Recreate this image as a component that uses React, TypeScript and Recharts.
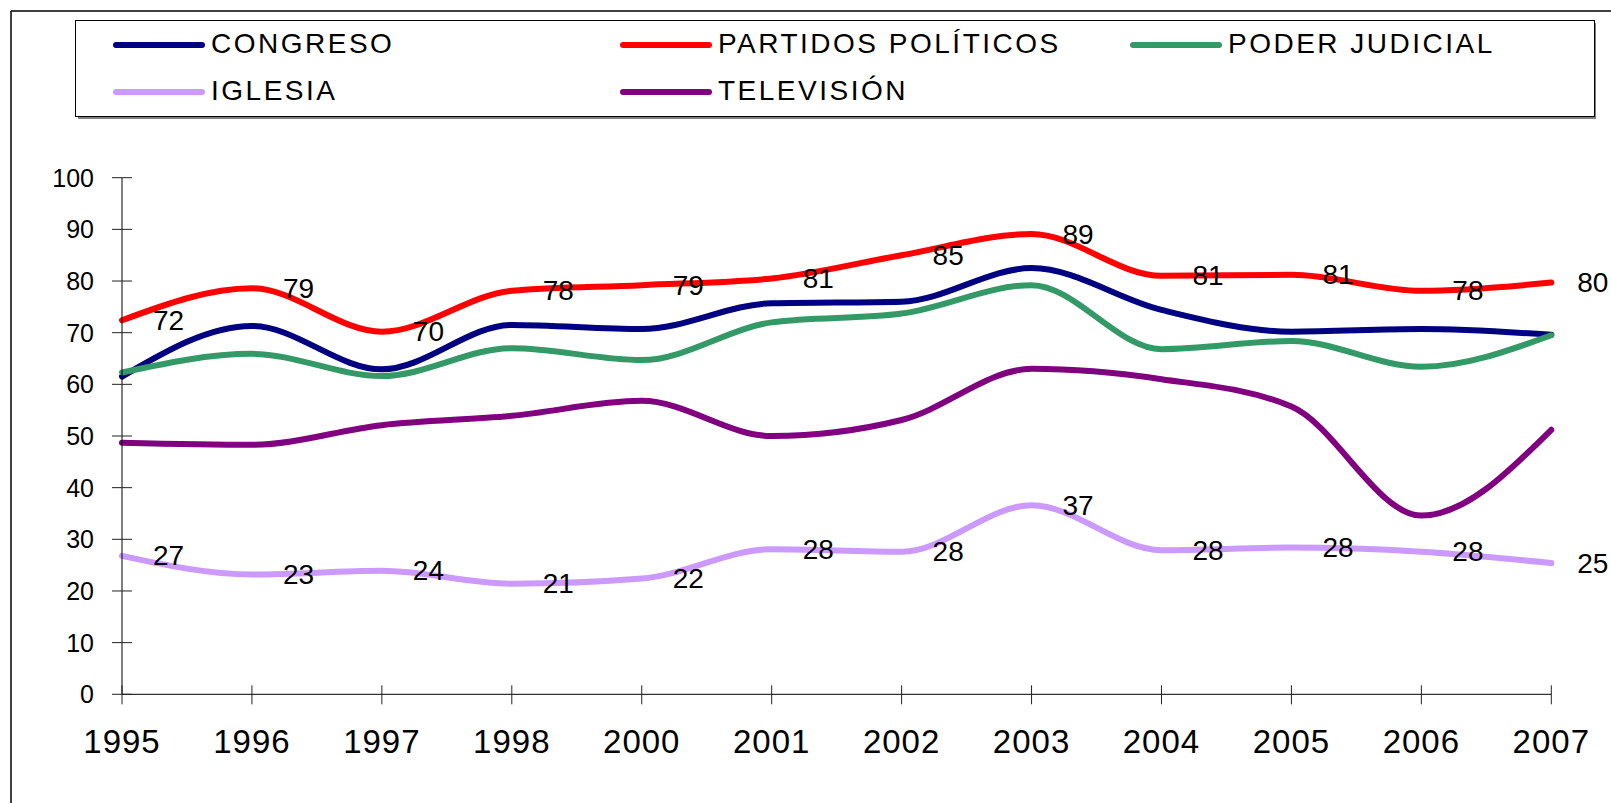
import React from 'react';
import { LabelList, Line, LineChart, XAxis, YAxis } from 'recharts';

const years = ['1995', '1996', '1997', '1998', '2000', '2001', '2002', '2003', '2004', '2005', '2006', '2007'];
const congreso = [61.5, 71.3, 62.9, 71.5, 70.7, 75.7, 76.0, 82.5, 74.4, 70.2, 70.7, 69.6];
const partidos = [72.4, 78.6, 70.2, 78.1, 79.2, 80.5, 85.0, 89.1, 81.0, 81.2, 78.1, 79.7];
const poderJudicial = [62.3, 65.9, 61.6, 67.0, 64.7, 72.0, 73.7, 79.2, 66.8, 68.4, 63.4, 69.5];
const iglesia = [26.8, 23.2, 23.9, 21.4, 22.4, 28.1, 27.6, 36.6, 27.9, 28.4, 27.6, 25.4];
const television = [48.7, 48.3, 52.1, 53.9, 56.8, 50.0, 53.1, 63.0, 61.0, 55.7, 34.6, 51.2];
const yTicks = [0, 10, 20, 30, 40, 50, 60, 70, 80, 90, 100];

const series = [
    { key: 'congreso', name: 'CONGRESO', color: '#000080', labels: false },
    { key: 'partidos', name: 'PARTIDOS POLÍTICOS', color: '#FF0000', labels: true },
    { key: 'poderJudicial', name: 'PODER JUDICIAL', color: '#339966', labels: false },
    { key: 'iglesia', name: 'IGLESIA', color: '#CC99FF', labels: true },
    { key: 'television', name: 'TELEVISIÓN', color: '#800080', labels: false },
];

const data = years.map((year, i) => ({
    year,
    congreso: congreso[i],
    partidos: partidos[i],
    poderJudicial: poderJudicial[i],
    iglesia: iglesia[i],
    television: television[i],
}));

const FONT = "Arial, 'Liberation Sans', sans-serif";

const YTick = (props: any) => {
    const { x, y, payload } = props;
    return (
        <g>
            <line x1={x - 10} x2={x + 10} y1={y} y2={y} stroke="#222" strokeWidth={1} />
            <text x={x - 28} y={y} textAnchor="end" dominantBaseline="central" fontSize={25} fontFamily={FONT} fill="#000">
                {payload.value}
            </text>
        </g>
    );
};

const XTick = (props: any) => {
    const { x, y, payload } = props;
    return (
        <g>
            <line x1={x} x2={x} y1={y - 9} y2={y + 10} stroke="#222" strokeWidth={1} />
            <text x={x} y={y + 59} textAnchor="middle" fontSize={33} letterSpacing={1} fontFamily={FONT} fill="#000">
                {payload.value}
            </text>
        </g>
    );
};

const renderLabel = (props: any) => {
    const { x, y, value, index } = props;
    // last label sits at the page edge; pull it in a little so it is not cut
    const dx = index === years.length - 1 ? 26 : 31;
    return (
        <text x={x + dx} y={y} dominantBaseline="central" fontSize={28} fontFamily={FONT} fill="#000">
            {Math.round(value)}
        </text>
    );
};

const legendSlots = [
    { x: 113, y: 45 },
    { x: 620, y: 45 },
    { x: 1130, y: 45 },
    { x: 113, y: 92 },
    { x: 620, y: 92 },
];

const App = () => {
    return (
        <div style={{ position: 'absolute', left: 0, top: 0, width: 1611, height: 803, background: '#fff' }}>
            <LineChart
                width={1611}
                height={803}
                data={data}
                margin={{ top: 177.7, right: 59.7, bottom: 8.7, left: 22 }}
            >
                <XAxis
                    dataKey="year"
                    interval={0}
                    tickSize={0}
                    tickMargin={0}
                    height={100}
                    axisLine={{ stroke: '#000', strokeWidth: 1 }}
                    tickLine={false}
                    tick={<XTick />}
                />
                <YAxis
                    domain={[0, 100]}
                    ticks={yTicks}
                    interval={0}
                    width={100}
                    tickSize={0}
                    tickMargin={0}
                    axisLine={{ stroke: '#000', strokeWidth: 1 }}
                    tickLine={false}
                    tick={<YTick />}
                />
                {series.map((s) => (
                    <Line
                        key={s.key}
                        type="monotone"
                        dataKey={s.key}
                        name={s.name}
                        stroke={s.color}
                        strokeWidth={6}
                        strokeLinecap="round"
                        strokeLinejoin="round"
                        dot={false}
                        activeDot={false}
                        isAnimationActive={false}
                    >
                        {s.labels && <LabelList dataKey={s.key} content={renderLabel} />}
                    </Line>
                ))}
            </LineChart>

            {/* frame and legend drawn on top */}
            <svg width={1611} height={803} style={{ position: 'absolute', left: 0, top: 0, pointerEvents: 'none' }}>
                <line x1={11} y1={11} x2={1611} y2={11} stroke="#000" strokeWidth={1.5} />
                <line x1={11} y1={11} x2={11} y2={803} stroke="#000" strokeWidth={1.5} />
                <rect x={78} y={23} width={1518} height={96} fill="#808080" />
                <rect x={75.5} y={20.5} width={1519} height={96} fill="#fff" stroke="#000" strokeWidth={1} />
                {series.map((s, i) => (
                    <g key={s.key}>
                        <line
                            x1={legendSlots[i].x + 3}
                            x2={legendSlots[i].x + 89}
                            y1={legendSlots[i].y}
                            y2={legendSlots[i].y}
                            stroke={s.color}
                            strokeWidth={6}
                            strokeLinecap="round"
                        />
                        <text
                            x={legendSlots[i].x + 98}
                            y={legendSlots[i].y + 8}
                            fontSize={28}
                            letterSpacing={2.5}
                            fontFamily={FONT}
                            fill="#000"
                        >
                            {s.name}
                        </text>
                    </g>
                ))}
            </svg>
        </div>
    );
};

export default App;
